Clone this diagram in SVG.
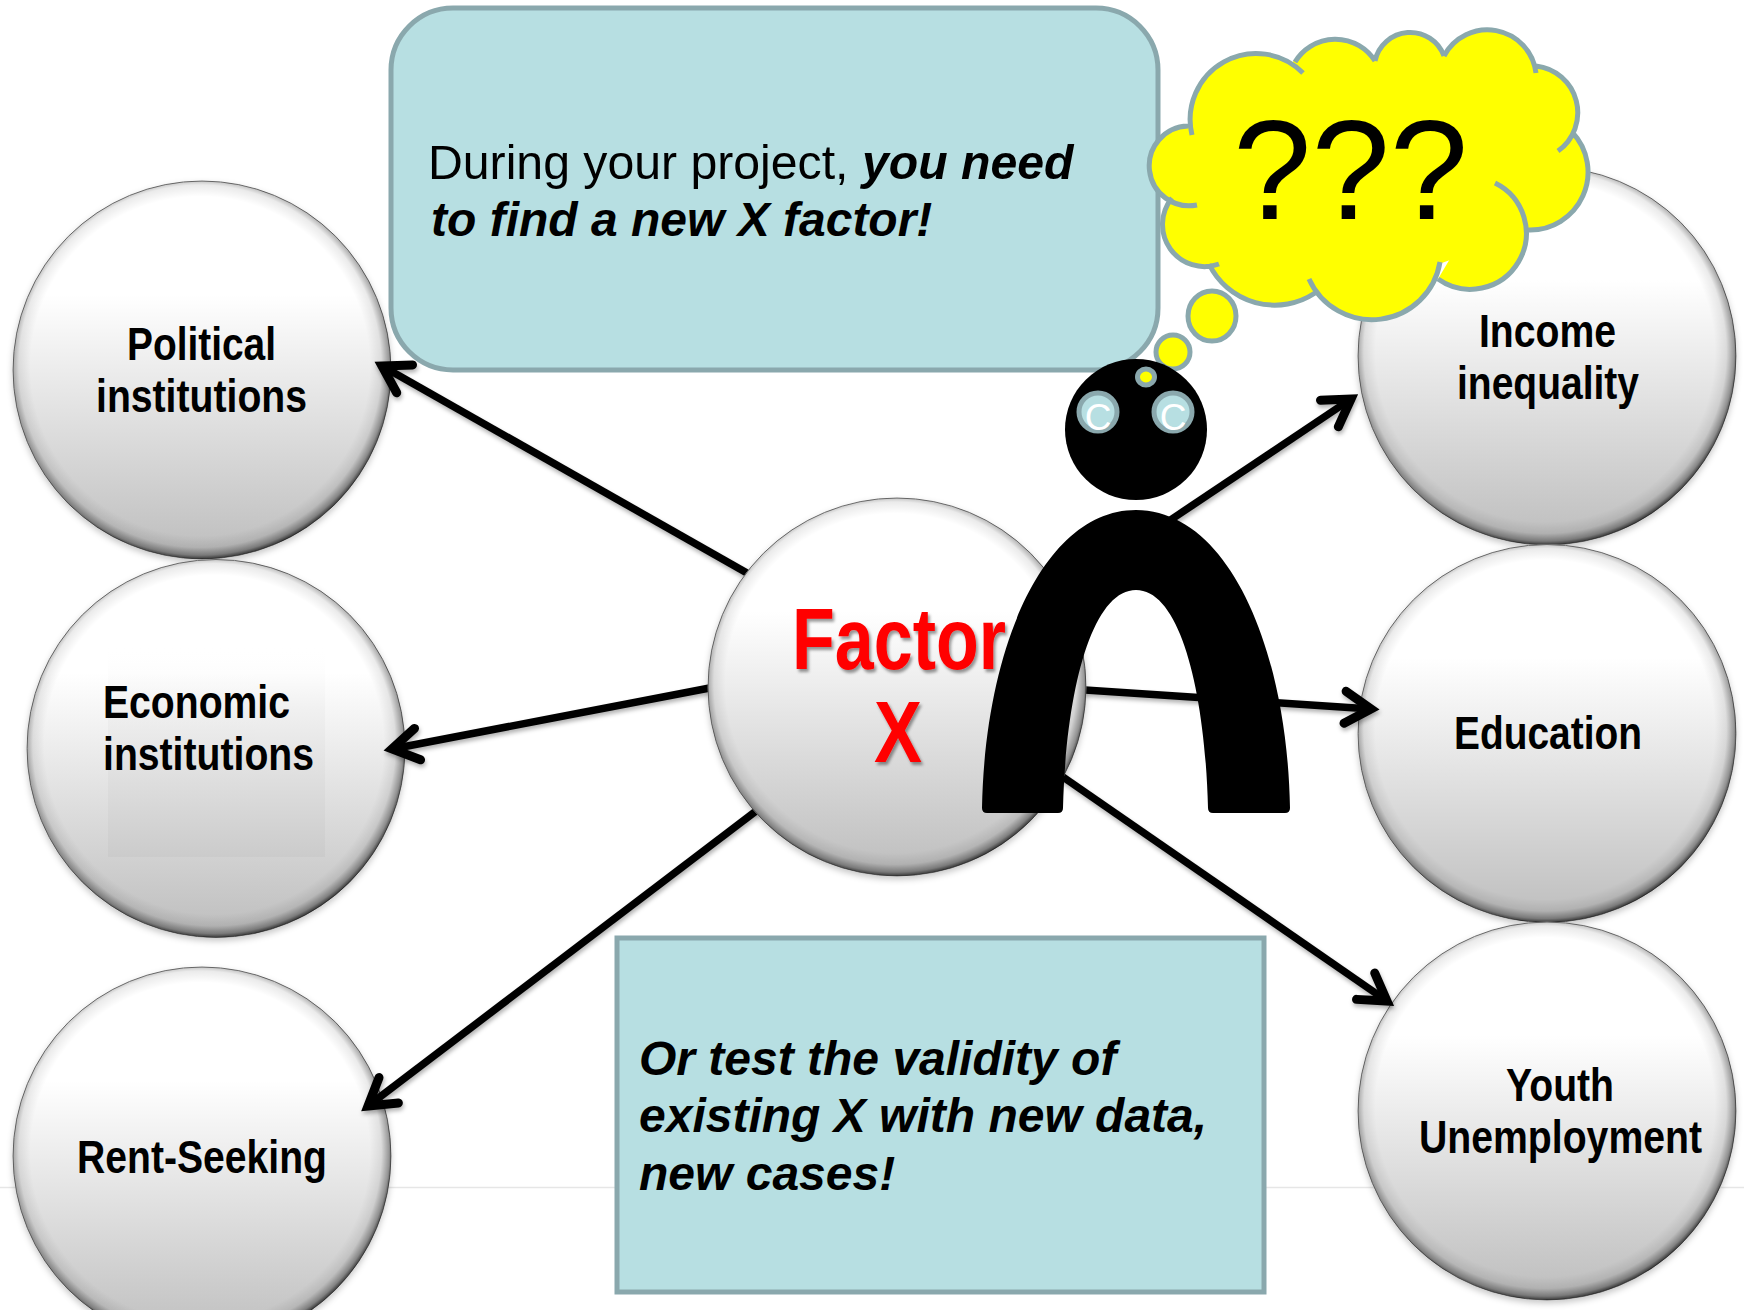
<svg xmlns="http://www.w3.org/2000/svg" width="1744" height="1310" viewBox="0 0 1744 1310">
<style>
.lbl{font-family:"Liberation Sans",Arial,sans-serif;font-weight:700;font-size:47px;fill:#000}
.fx{font-family:"Liberation Sans",Arial,sans-serif;font-weight:700;font-size:87px;fill:#f00}
.body{font-family:"Liberation Sans",Arial,sans-serif;font-size:48px;fill:#000}
.bi{font-weight:700;font-style:italic}
.box{fill:#b7dfe2;stroke:#8aa8ad;stroke-width:5}
.ball{fill:url(#ballFill);stroke:#777;stroke-width:1}
.rim{fill:url(#ballRim)}
.conn{fill:none;stroke:#000;stroke-width:7.5}
.eye{fill:#b7dfe2;stroke:#8aa8ad;stroke-width:5}
.yel{fill:#ff0;stroke:#8aa8ad;stroke-width:5}
</style>
<defs>
<linearGradient id="ballFill" x1="0" y1="0" x2="0" y2="1">
<stop offset="0" stop-color="#fff"/><stop offset="0.3" stop-color="#fff"/><stop offset="1" stop-color="#bdbdbd"/>
</linearGradient>
<radialGradient id="ballRim" cx="0.495" cy="0.49" r="0.51">
<stop offset="0" stop-color="#000" stop-opacity="0"/><stop offset="0.88" stop-color="#000" stop-opacity="0"/>
<stop offset="0.94" stop-color="#000" stop-opacity="0.08"/><stop offset="0.98" stop-color="#000" stop-opacity="0.36"/>
<stop offset="1" stop-color="#000" stop-opacity="0.7"/>
</radialGradient>
<linearGradient id="boxFade" x1="0" y1="0" x2="0" y2="1">
<stop offset="0" stop-color="#fff" stop-opacity="0"/><stop offset="0.3" stop-color="#ededed" stop-opacity="0.6"/><stop offset="1" stop-color="#cbcbcb"/>
</linearGradient>
<filter id="soft" x="-10%" y="-10%" width="120%" height="125%"><feDropShadow dx="0" dy="3" stdDeviation="3" flood-color="#000" flood-opacity="0.22"/></filter>
<filter id="arrowShadow" x="-5%" y="-5%" width="110%" height="110%"><feDropShadow dx="1" dy="3" stdDeviation="2" flood-color="#000" flood-opacity="0.3"/></filter>
<filter id="txtShadow" x="-10%" y="-10%" width="120%" height="120%"><feDropShadow dx="2" dy="3" stdDeviation="1.5" flood-color="#000" flood-opacity="0.4"/></filter>
<marker id="arr" markerUnits="userSpaceOnUse" markerWidth="70" markerHeight="70" refX="40" refY="35" viewBox="0 0 70 70" orient="auto" overflow="visible">
<path d="M14 19 L40 35 L14 51" fill="none" stroke="#000" stroke-width="9" stroke-linecap="round" stroke-linejoin="miter"/>
</marker>
</defs>
<rect width="1744" height="1310" fill="#fff"/>
<line x1="0" y1="1187.500" x2="1744" y2="1187.500" stroke="#e6e6e6" stroke-width="1.500"/>

<g id="node-political"><circle class="ball" cx="202" cy="370" r="189" filter="url(#soft)"/><circle class="rim" cx="202" cy="370" r="189"/>
<text class="lbl" x="127" y="360" textLength="149" lengthAdjust="spacingAndGlyphs">Political</text>
<text class="lbl" x="96" y="412" textLength="211" lengthAdjust="spacingAndGlyphs">institutions</text></g>

<g id="node-economic"><circle class="ball" cx="216" cy="748.500" r="189" filter="url(#soft)"/><circle class="rim" cx="216" cy="748.500" r="189"/>
<rect x="108" y="645" width="217" height="212" fill="url(#boxFade)"/>
<text class="lbl" x="103" y="718" textLength="187" lengthAdjust="spacingAndGlyphs">Economic</text>
<text class="lbl" x="103" y="770" textLength="211" lengthAdjust="spacingAndGlyphs">institutions</text></g>

<g id="node-rent"><circle class="ball" cx="202" cy="1156" r="189" filter="url(#soft)"/><circle class="rim" cx="202" cy="1156" r="189"/>
<text class="lbl" x="77" y="1173" textLength="250" lengthAdjust="spacingAndGlyphs">Rent-Seeking</text></g>

<g id="node-income"><circle class="ball" cx="1547" cy="356" r="189" filter="url(#soft)"/><circle class="rim" cx="1547" cy="356" r="189"/>
<text class="lbl" x="1479" y="347" textLength="137" lengthAdjust="spacingAndGlyphs">Income</text>
<text class="lbl" x="1457" y="399" textLength="182" lengthAdjust="spacingAndGlyphs">inequality</text></g>

<g id="node-education"><circle class="ball" cx="1547" cy="733.500" r="189" filter="url(#soft)"/><circle class="rim" cx="1547" cy="733.500" r="189"/>
<text class="lbl" x="1454" y="749" textLength="188" lengthAdjust="spacingAndGlyphs">Education</text></g>

<g id="node-youth"><circle class="ball" cx="1547" cy="1111" r="189" filter="url(#soft)"/><circle class="rim" cx="1547" cy="1111" r="189"/>
<text class="lbl" x="1506" y="1101" textLength="108" lengthAdjust="spacingAndGlyphs">Youth</text>
<text class="lbl" x="1419" y="1153" textLength="283" lengthAdjust="spacingAndGlyphs">Unemployment</text></g>

<g id="connectors" class="conn" filter="url(#arrowShadow)">
<line x1="747" y1="573" x2="382" y2="366" style="marker-end:url(#arr)"/>
<line x1="720" y1="686" x2="392" y2="749" style="marker-end:url(#arr)"/>
<line x1="760" y1="808" x2="368" y2="1106" style="marker-end:url(#arr)"/>
<line x1="1160" y1="527" x2="1351" y2="399" style="marker-end:url(#arr)"/>
<line x1="1070" y1="689" x2="1371" y2="709" style="marker-end:url(#arr)"/>
<line x1="1050" y1="768" x2="1387" y2="1001" style="marker-end:url(#arr)"/>
</g>

<g id="node-factor"><circle class="ball" cx="897" cy="687" r="189" filter="url(#soft)"/><circle class="rim" cx="897" cy="687" r="189"/>
<g filter="url(#txtShadow)"><text class="fx" x="792" y="669" textLength="214" lengthAdjust="spacingAndGlyphs">Factor</text>
<text class="fx" x="874" y="762" textLength="48" lengthAdjust="spacingAndGlyphs">X</text></g></g>

<g id="node-box-top"><rect class="box" x="391" y="8" width="767" height="362" rx="62" ry="62"/>
<text class="body" x="428" y="179" style="font-size:48.2px">During your project, <tspan class="bi">you need</tspan></text>
<text class="body bi" x="431" y="236">to find a new X factor!</text></g>

<g id="node-box-bottom"><rect class="box" x="617" y="938" width="647" height="354"/>
<text class="body bi" x="639" y="1075">Or test the validity of</text>
<text class="body bi" x="639" y="1132">existing X with new data,</text>
<text class="body bi" x="639" y="1190">new cases!</text></g>

<g id="node-cloud">
<polygon fill="#ff0" stroke="#ff0" stroke-width="3" points="1192,135 1295,62 1375,61 1444,56 1536,66 1572,132 1528,230 1440,262 1373,300 1315,293 1209,264 1172,198 1197,205 1188,126"/>
<path class="yel" d="M1192 135A66 66 0 0 1 1303 73M1295 62A47 47 0 0 1 1375 61M1375 61A36 36 0 0 1 1444 56M1444 56A49 49 0 0 1 1536 73M1536 66A47 47 0 0 1 1558 151M1572 132A58 58 0 0 1 1528 230M1495 183A56 56 0 1 1 1438 279M1440 262A69 69 0 0 1 1309 279M1315 293A73 73 0 0 1 1209 264M1219 264A42 42 0 0 1 1172 198M1197 205A39.9 39.9 0 1 1 1188 126"/>
<text x="1233" y="219" font-family="'Liberation Sans',Arial,sans-serif" font-size="141" fill="#000">???</text>
<ellipse class="yel" cx="1212" cy="316" rx="24" ry="25"/>
<ellipse class="yel" cx="1173" cy="352" rx="17" ry="17"/>
</g>

<g id="node-person">
<ellipse cx="1136" cy="429.500" rx="71" ry="70.500" fill="#000"/>
<path d="M982 808 C985 645 1045 510 1136 510 C1227 510 1287 645 1290 808 Q1290 813 1285 813 L1213 813 Q1208 813 1208 808 C1205 690 1180 590 1136 590 C1092 590 1066 690 1063 808 Q1063 813 1058 813 L987 813 Q982 813 982 808 Z" fill="#000"/>
<ellipse class="yel" cx="1146" cy="377" rx="8.500" ry="8"/>
<ellipse class="eye" cx="1098" cy="412" rx="19" ry="19"/>
<ellipse class="eye" cx="1173" cy="412" rx="19" ry="19"/>
<text x="1098" y="430" text-anchor="middle" font-family="'Liberation Sans',Arial,sans-serif" font-size="37" fill="#fff">C</text>
<text x="1173" y="430" text-anchor="middle" font-family="'Liberation Sans',Arial,sans-serif" font-size="37" fill="#fff">C</text>
</g>
</svg>
